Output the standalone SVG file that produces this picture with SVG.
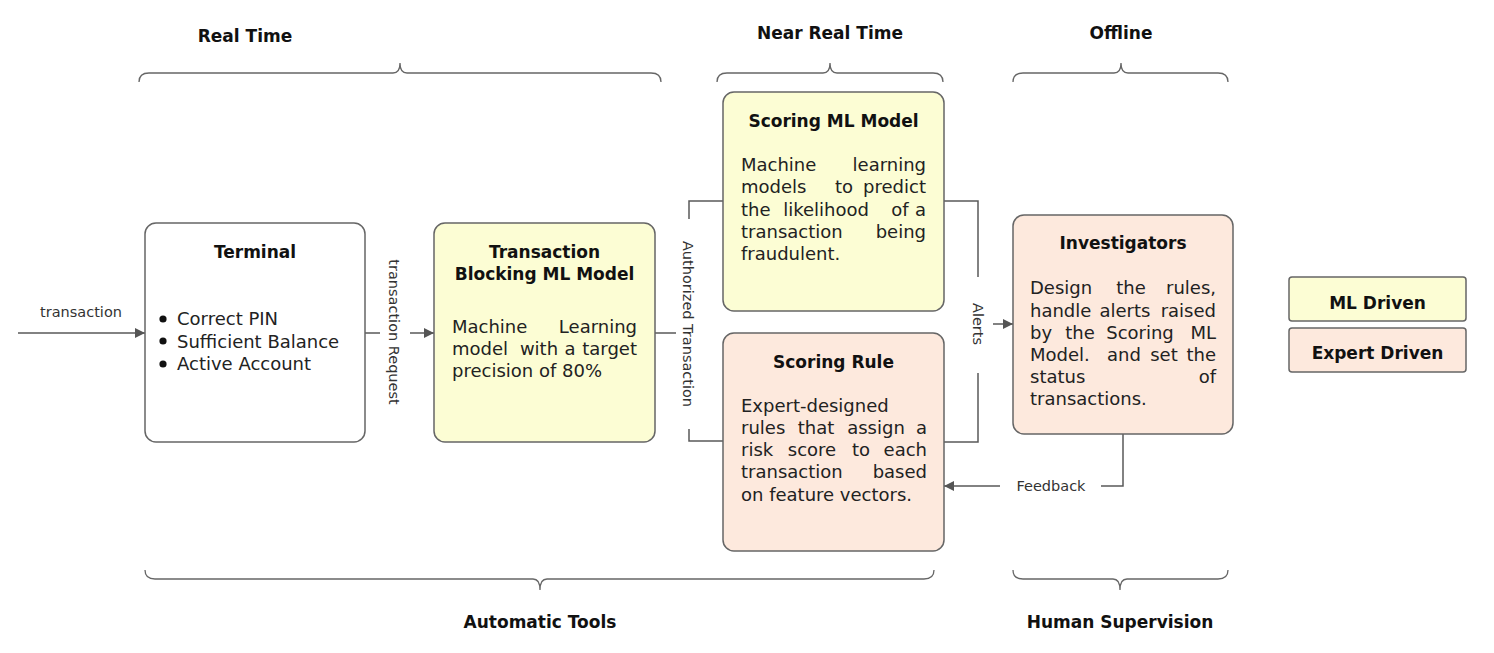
<svg xmlns="http://www.w3.org/2000/svg" width="1494" height="653" viewBox="0 0 1494 653">
<defs>
<marker id="arr" viewBox="0 0 10 10" refX="10" refY="5" markerWidth="10" markerHeight="10" markerUnits="userSpaceOnUse" orient="auto">
<path d="M0,0 L10,5 L0,10 z" fill="#555"/>
</marker>
<style>
text{font-family:"DejaVu Sans","Liberation Sans",sans-serif;fill:#111}
.h{font-size:17px;font-weight:bold;text-anchor:middle}
.t{font-size:17px;font-weight:bold;text-anchor:middle}
.b{font-size:18px;fill:#222}
.m{text-anchor:middle}
.e{text-anchor:end}
.l{font-size:14.5px;fill:#333}
.box{stroke:#666;stroke-width:1.5}
.w{fill:#fff}
.y{fill:#fcfdd4}
.p{fill:#fde9dd}
.c{fill:none;stroke:#595959;stroke-width:1.5}
.br{fill:none;stroke:#666;stroke-width:1.3}
</style>
</defs>
<rect width="1494" height="653" fill="#fff"/>

<g id="braces">
<path class="br" d="M139,82 Q139,73 149,73 L393,73 Q400,73 400,63 Q400,73 407,73 L651,73 Q661,73 661,82"/>
<text class="h" x="245" y="42">Real Time</text>
<path class="br" d="M717,82 Q717,73 727,73 L823,73 Q830,73 830,63 Q830,73 837,73 L933,73 Q943,73 943,82"/>
<text class="h" x="830" y="39">Near Real Time</text>
<path class="br" d="M1013,82 Q1013,73 1023,73 L1114,73 Q1121,73 1121,63 Q1121,73 1128,73 L1218,73 Q1228,73 1228,82"/>
<text class="h" x="1121" y="39">Offline</text>
<path class="br" d="M145,570 Q145,579 155,579 L533,579 Q540,579 540,590 Q540,579 547,579 L924,579 Q934,579 934,570"/>
<text class="h" x="540" y="628">Automatic Tools</text>
<path class="br" d="M1013,570 Q1013,579 1023,579 L1113,579 Q1120,579 1120,590 Q1120,579 1127,579 L1218,579 Q1228,579 1228,570"/>
<text class="h" x="1120" y="628">Human Supervision</text>
</g>

<g id="connectors">
<line class="c" x1="18" y1="333" x2="145" y2="333" marker-end="url(#arr)"/>
<text class="l m" x="81" y="317">transaction</text>
<line class="c" x1="365" y1="333" x2="380" y2="333"/>
<line class="c" x1="410" y1="333" x2="434" y2="333" marker-end="url(#arr)"/>
<text class="l m" transform="translate(394,332) rotate(90)" dominant-baseline="central">transaction Request</text>
<line class="c" x1="655" y1="333" x2="676" y2="333"/>
<path class="c" d="M689,219 L689,201 L723,201"/>
<path class="c" d="M689,429 L689,441 L723,441"/>
<text class="l m" transform="translate(688,324) rotate(90)" dominant-baseline="central">Authorized Transaction</text>
<path class="c" d="M944,201 L978,201 L978,277"/>
<path class="c" d="M944,442 L978,442 L978,373"/>
<text class="l m" transform="translate(978,324) rotate(90)" dominant-baseline="central">Alerts</text>
<line class="c" x1="993" y1="324" x2="1013" y2="324" marker-end="url(#arr)"/>
<path class="c" d="M1123,434 L1123,486 L1101,486"/>
<text class="l m" x="1051" y="491">Feedback</text>
<line class="c" x1="1000" y1="486" x2="944" y2="486" marker-end="url(#arr)"/>
</g>

<g id="terminal">
<rect class="box w" x="145" y="223" width="220" height="219" rx="11"/>
<text class="t" x="255" y="258">Terminal</text>
<circle cx="163" cy="319" r="3.6" fill="#111"/>
<circle cx="163" cy="341" r="3.6" fill="#111"/>
<circle cx="163" cy="364" r="3.6" fill="#111"/>
<text class="b" x="177" y="325">Correct PIN</text>
<text class="b" x="177" y="347.5">Sufficient Balance</text>
<text class="b" x="177" y="370">Active Account</text>
</g>

<g id="transaction-blocking">
<rect class="box y" x="434" y="223" width="221" height="219" rx="11"/>
<text class="t" x="544.5" y="258">Transaction</text>
<text class="t" x="544.5" y="280">Blocking ML Model</text>
<text class="b" x="452" y="333">Machine</text>
<text class="b e" x="637" y="333">Learning</text>
<text class="b" x="452" y="355">model</text>
<text class="b m" x="539" y="355">with</text>
<text class="b m" x="570" y="355">a</text>
<text class="b e" x="637" y="355">target</text>
<text class="b" x="452" y="377">precision of 80%</text>
</g>

<g id="scoring-ml">
<rect class="box y" x="723" y="92" width="221" height="219" rx="11"/>
<text class="t" x="833.5" y="127">Scoring ML Model</text>
<text class="b" x="741" y="171">Machine</text>
<text class="b e" x="926" y="171">learning</text>
<text class="b" x="741" y="193">models</text>
<text class="b m" x="844" y="193">to</text>
<text class="b e" x="926" y="193">predict</text>
<text class="b" x="741" y="216">the</text>
<text class="b m" x="826" y="216">likelihood</text>
<text class="b m" x="900" y="216">of</text>
<text class="b e" x="926" y="216">a</text>
<text class="b" x="741" y="238">transaction</text>
<text class="b e" x="926" y="238">being</text>
<text class="b" x="741" y="260">fraudulent.</text>
</g>

<g id="scoring-rule">
<rect class="box p" x="723" y="333" width="221" height="218" rx="11"/>
<text class="t" x="833.5" y="368">Scoring Rule</text>
<text class="b" x="741" y="412">Expert-designed</text>
<text class="b" x="741" y="434">rules</text>
<text class="b m" x="816" y="434">that</text>
<text class="b m" x="876" y="434">assign</text>
<text class="b e" x="927" y="434">a</text>
<text class="b" x="741" y="456">risk</text>
<text class="b m" x="812" y="456">score</text>
<text class="b m" x="861" y="456">to</text>
<text class="b e" x="927" y="456">each</text>
<text class="b" x="741" y="478">transaction</text>
<text class="b e" x="927" y="478">based</text>
<text class="b" x="741" y="500.5">on feature vectors.</text>
</g>

<g id="investigators">
<rect class="box p" x="1013" y="215" width="220" height="219" rx="11"/>
<text class="t" x="1123" y="249">Investigators</text>
<text class="b" x="1030" y="294">Design</text>
<text class="b m" x="1131" y="294">the</text>
<text class="b e" x="1216" y="294">rules,</text>
<text class="b" x="1030" y="316.5">handle</text>
<text class="b m" x="1125" y="316.5">alerts</text>
<text class="b e" x="1216" y="316.5">raised</text>
<text class="b" x="1030" y="339">by</text>
<text class="b m" x="1080" y="339">the</text>
<text class="b m" x="1140" y="339">Scoring</text>
<text class="b e" x="1216" y="339">ML</text>
<text class="b" x="1030" y="361">Model.</text>
<text class="b m" x="1124" y="361">and</text>
<text class="b m" x="1164" y="361">set</text>
<text class="b e" x="1216" y="361">the</text>
<text class="b" x="1030" y="383">status</text>
<text class="b e" x="1216" y="383">of</text>
<text class="b" x="1030" y="405">transactions.</text>
</g>

<g id="legend-ml">
<rect class="box y" x="1289" y="277" width="177" height="44" rx="3"/>
<text class="t" x="1377.5" y="309">ML Driven</text>
</g>
<g id="legend-expert">
<rect class="box p" x="1289" y="328" width="177" height="44" rx="3"/>
<text class="t" x="1377.5" y="359">Expert Driven</text>
</g>
</svg>
